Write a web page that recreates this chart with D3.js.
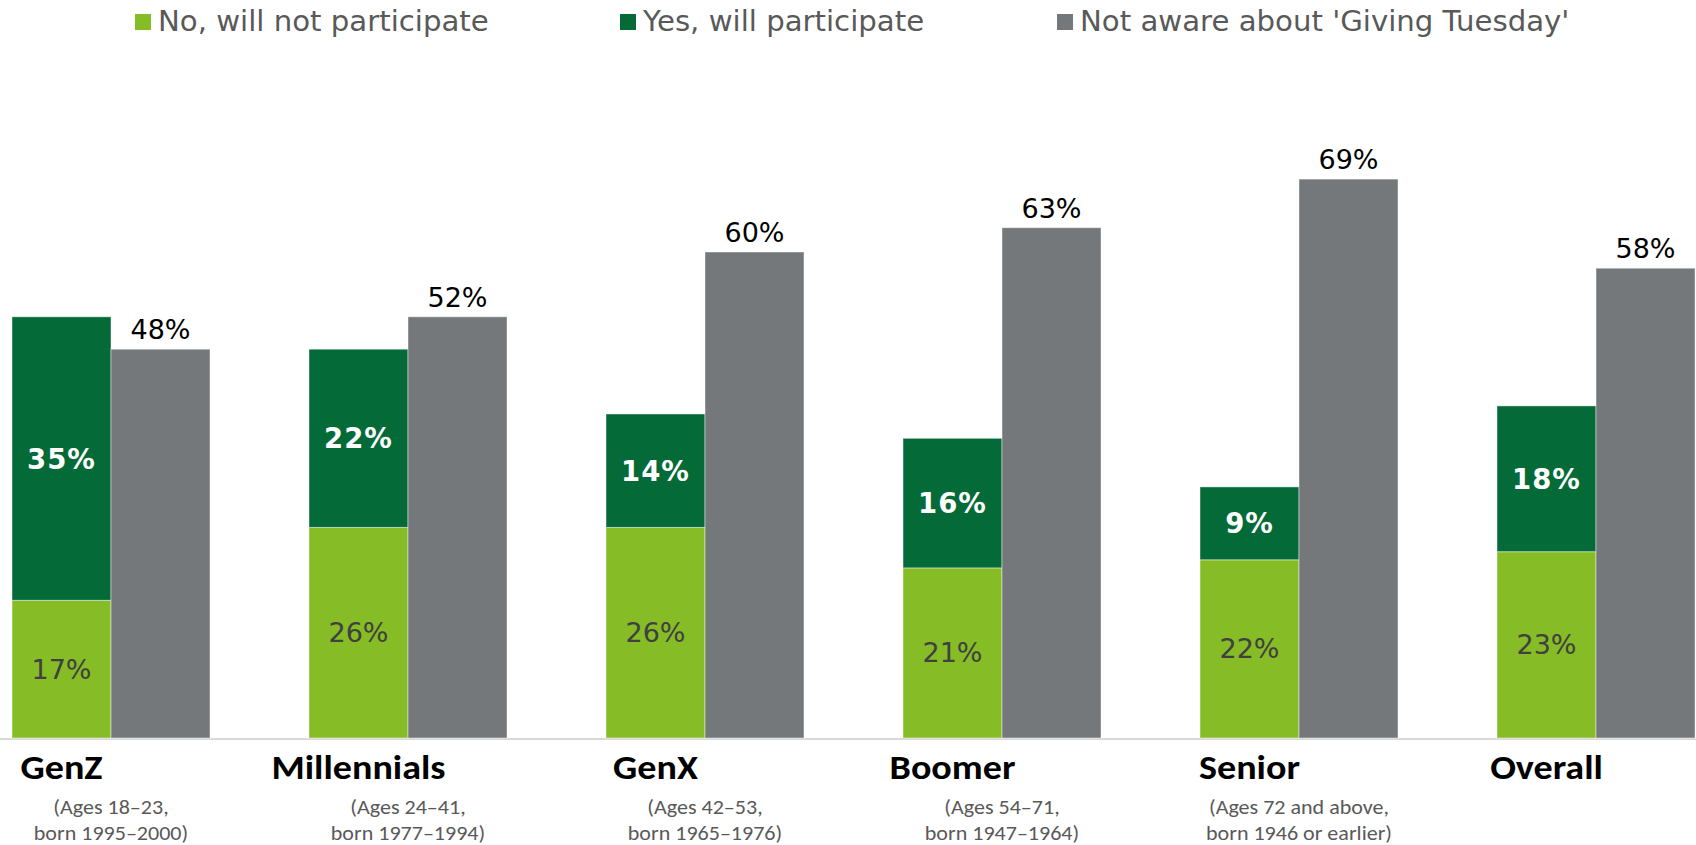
<!DOCTYPE html>
<html>
<head>
<meta charset="utf-8">
<script src="https://cdn.jsdelivr.net/npm/d3@7"></script>
<style>
  html, body { margin: 0; padding: 0; background: #ffffff; }
  svg { display: block; }
</style>
</head>
<body>
<svg id="chart" width="1696" height="845"></svg>
<script>
// Giving Tuesday participation by generation
const categories = ["GenZ", "Millennials", "GenX", "Boomer", "Senior", "Overall"];
const ageNotes = [
  ["(Ages 18–23,", "born 1995–2000)"],
  ["(Ages 24–41,", "born 1977–1994)"],
  ["(Ages 42–53,", "born 1965–1976)"],
  ["(Ages 54–71,", "born 1947–1964)"],
  ["(Ages 72 and above,", "born 1946 or earlier)"],
  []
];
const seriesNames = ["No, will not participate", "Yes, will participate", "Not aware about 'Giving Tuesday'"];
const noValues = [17, 26, 26, 21, 22, 23];
const yesValues = [35, 22, 14, 16, 9, 18];
const notAwareValues = [48, 52, 60, 63, 69, 58];

const colors = { no: "#86BC25", yes: "#046A38", notAware: "#75787B" };

const svg = d3.select("#chart");
const W = 1696, H = 845;
const baseY = 738;

const x = d3.scaleBand().domain(categories).range([12, 1695]).paddingInner(1 / 3).paddingOuter(0);
const xs = d3.scaleBand().domain(["stack", "single"]).range([0, x.bandwidth()]).padding(0);
const y = d3.scaleLinear().domain([0, 70]).range([baseY, baseY - 70 * 8.1]);

const rows = categories.map((c, i) => ({
  cat: c, no: noValues[i], yes: yesValues[i], notAware: notAwareValues[i], notes: ageNotes[i]
}));

// baseline
svg.append("line")
  .attr("x1", 0).attr("x2", W)
  .attr("y1", baseY + 1).attr("y2", baseY + 1)
  .attr("stroke", "#d9d9d9").attr("stroke-width", 2);

const g = svg.append("g");
const groups = g.selectAll("g.cat").data(rows).join("g")
  .attr("class", "cat")
  .attr("transform", d => `translate(${x(d.cat)},0)`);

const bw = xs.bandwidth();
const edge = "rgba(255,255,255,0.45)";

// stacked: no (bottom) + yes (top)
groups.append("rect")
  .attr("x", xs("stack")).attr("width", bw)
  .attr("y", d => y(d.no)).attr("height", d => y(0) - y(d.no))
  .attr("fill", colors.no).attr("stroke", edge).attr("stroke-width", 1);
groups.append("rect")
  .attr("x", xs("stack")).attr("width", bw)
  .attr("y", d => y(d.no + d.yes)).attr("height", d => y(d.no) - y(d.no + d.yes))
  .attr("fill", colors.yes).attr("stroke", edge).attr("stroke-width", 1);
groups.append("rect")
  .attr("x", xs("single")).attr("width", bw)
  .attr("y", d => y(d.notAware)).attr("height", d => y(0) - y(d.notAware))
  .attr("fill", colors.notAware).attr("stroke", edge).attr("stroke-width", 1);

const valFont = "'DejaVu Sans', Verdana, sans-serif";

groups.append("text")
  .attr("x", xs("stack") + bw / 2)
  .attr("y", d => (y(0) + y(d.no)) / 2)
  .attr("text-anchor", "middle").attr("dominant-baseline", "central")
  .attr("font-family", valFont).attr("font-size", 27).attr("fill", "#404040")
  .text(d => d.no + "%");
groups.append("text")
  .attr("x", xs("stack") + bw / 2)
  .attr("y", d => (y(d.no) + y(d.no + d.yes)) / 2)
  .attr("text-anchor", "middle").attr("dominant-baseline", "central")
  .attr("font-family", valFont).attr("font-size", 27.5).attr("font-weight", "bold")
  .attr("letter-spacing", 1).attr("fill", "#ffffff")
  .text(d => d.yes + "%");
groups.append("text")
  .attr("x", xs("single") + bw / 2)
  .attr("y", d => y(d.notAware) - 10)
  .attr("text-anchor", "middle")
  .attr("font-family", valFont).attr("font-size", 27).attr("fill", "#000000")
  .text(d => d.notAware + "%");

// category labels
const catFont = "Carlito, Lato, 'Open Sans', sans-serif";
groups.append("text")
  .attr("transform", `translate(${xs("stack") + bw / 2},779) scale(1.12,1)`)
  .attr("text-anchor", "middle")
  .attr("font-family", catFont).attr("font-size", 34).attr("font-weight", "bold").attr("fill", "#000000")
  .text(d => d.cat);

groups.each(function (d) {
  const sel = d3.select(this);
  d.notes.forEach((line, j) => {
    sel.append("text")
      .attr("transform", `translate(${x.bandwidth() / 2},${814 + j * 26}) scale(1.05,1)`)
      .attr("text-anchor", "middle")
      .attr("font-family", catFont).attr("font-size", 21).attr("fill", "#595959")
      .text(line);
  });
});

// legend
const legendX = [135, 620, 1057];
const legendColors = [colors.no, colors.yes, colors.notAware];
const legend = svg.append("g").selectAll("g").data(seriesNames).join("g")
  .attr("transform", (d, i) => `translate(${legendX[i]},0)`);
legend.append("rect").attr("x", 0).attr("y", 14).attr("width", 16).attr("height", 16)
  .attr("fill", (d, i) => legendColors[i]);
legend.append("text").attr("x", 23).attr("y", 31)
  .attr("font-family", valFont).attr("font-size", 29.2).attr("fill", "#595959")
  .text(d => d);
</script>
</body>
</html>
